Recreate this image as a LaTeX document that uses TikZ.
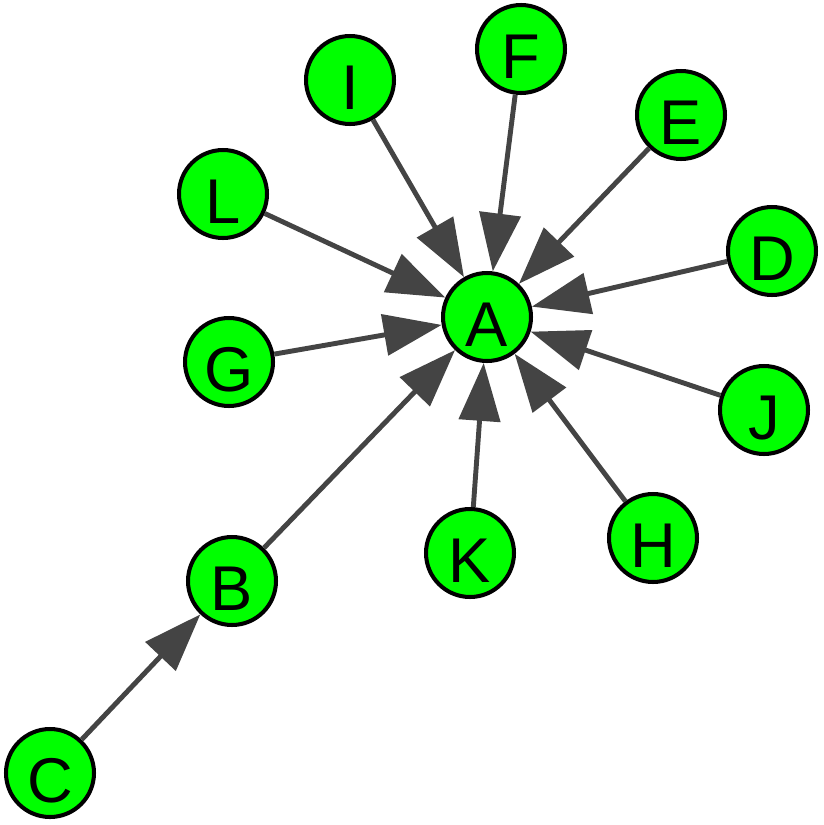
\documentclass[tikz,border=0pt]{standalone}
\usepackage{fontspec}
\setmainfont{Liberation Sans}
\usetikzlibrary{arrows.meta}
\definecolor{nodegreen}{HTML}{00FF00}
\definecolor{edgegray}{HTML}{444444}

\begin{document}
\begin{tikzpicture}[x=0.02cm, y=-0.02cm, >={Triangle[length=1.16cm, width=0.82cm]}]
        \tikzset{vertex/.style={draw=black, line width=2.3pt, fill=nodegreen, circle, minimum size=1.76cm, inner sep=0pt, text height=1.18cm, text depth=0pt, font=\fontsize{36}{36}\selectfont},
                 edge/.style={->, draw=edgegray, fill=edgegray, line width=2.8pt}}
        \useasboundingbox (0,0) rectangle (824,825);
        \node[vertex] (a) at (487,317) {A};
        \node[vertex] (b) at (232,581) {B};
        \node[vertex] (c) at (50,773) {C};
        \node[vertex] (d) at (772,251) {D};
        \node[vertex] (e) at (681,115) {E};
        \node[vertex] (f) at (521,49) {F};
        \node[vertex] (g) at (229,362) {G};
        \node[vertex] (h) at (653,538) {H};
        \node[vertex] (i) at (350,80) {I};
        \node[vertex] (j) at (764,410) {J};
        \node[vertex] (k) at (470,553) {K};
        \node[vertex] (l) at (223,194) {L};

        \draw[edge] (c) -- (b);
        \foreach \src in {b,d,e,f,g,h,i,j,k,l}
            \draw[edge] (\src) -- (a);
    \end{tikzpicture}
\end{document}
